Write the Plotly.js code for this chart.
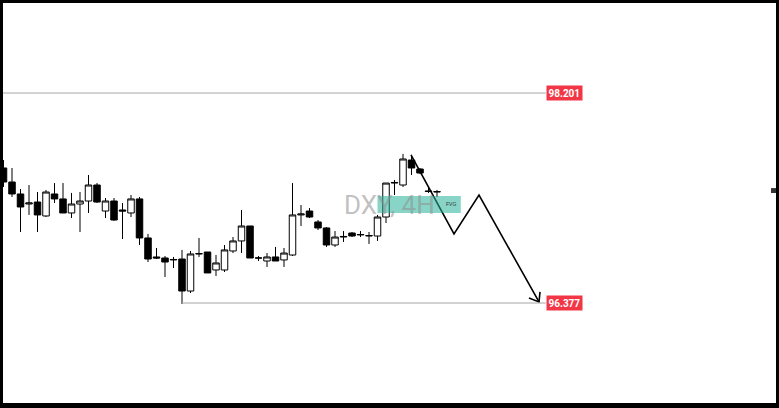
<!DOCTYPE html>
<html>
<head>
<meta charset="utf-8">
<script src="https://cdn.plot.ly/plotly-3.0.1.min.js"></script>
<style>html,body{margin:0;padding:0;background:#fff;}#chart{width:779px;height:408px;}</style>
</head>
<body>
<div id="chart"></div>
<script>
// Candle index (0..51), DXY 4H
const candleIndex = Array.from({length: 52}, (_, i) => i);
const openP  = [97.550,97.428,97.324,97.237,97.254,97.133,97.324,97.281,97.159,97.237,
                97.263,97.402,97.176,97.263,97.185,97.159,97.281,96.942,96.777,96.768,
                96.751,96.759,96.481,96.803,96.820,96.664,96.664,96.829,96.916,97.046,
                96.768,96.742,96.777,96.751,96.794,97.142,97.176,97.081,97.029,96.881,
                96.950,96.985,96.968,96.959,96.959,97.124,97.419,97.402,97.619,97.541,
                97.350,97.341];
const highP  = [97.619,97.550,97.367,97.402,97.341,97.359,97.419,97.419,97.333,97.341,
                97.489,97.419,97.289,97.289,97.246,97.315,97.298,96.977,96.855,96.785,
                96.777,96.838,96.829,96.942,96.820,96.794,96.881,96.950,97.185,97.046,
                96.785,96.811,96.864,96.855,97.419,97.228,97.202,97.098,97.037,97.002,
                97.002,96.994,97.002,96.994,97.142,97.419,97.446,97.672,97.663,97.550,
                97.376,97.359];
const lowP   = [97.385,97.298,96.994,97.142,96.994,97.124,97.246,97.159,97.115,96.994,
                97.159,97.246,97.115,97.090,96.933,97.124,96.881,96.733,96.759,96.603,
                96.681,96.368,96.464,96.777,96.638,96.612,96.646,96.811,96.811,96.768,
                96.742,96.690,96.742,96.690,96.785,97.046,97.115,97.011,96.864,96.864,
                96.907,96.950,96.950,96.890,96.916,97.072,97.315,97.385,97.489,97.497,
                97.333,97.298];
const closeP = [97.428,97.324,97.211,97.246,97.142,97.341,97.281,97.159,97.237,97.263,
                97.402,97.254,97.263,97.098,97.176,97.281,96.942,96.759,96.768,96.733,
                96.755,96.481,96.803,96.806,96.638,96.725,96.838,96.916,97.046,96.768,
                96.768,96.777,96.742,96.811,97.142,97.150,97.124,97.029,96.881,96.950,
                96.955,96.959,96.972,96.963,97.124,97.419,97.424,97.628,97.550,97.506,
                97.346,97.345];

// Key levels
const levelHigh = 98.201;
const levelLow = 96.377;
const levelLabels = ['98.201', '96.377'];

// FVG zone
const fvgX = [44, 53.8];
const fvgY = [97.159, 97.307];

// Projected path
const zigzagX = [47.94, 53.0, 55.94, 63.0];
const zigzagY = [97.663, 96.977, 97.315, 96.386];
const arrowHeadX = [61.82, 63.0, 63.12];
const arrowHeadY = [96.421, 96.386, 96.473];

const xRange = [-0.412, 91.235];
const yRange = [95.465, 99.009];

const traces = [
  {
    type: 'candlestick',
    x: candleIndex, open: openP, high: highP, low: lowP, close: closeP,
    increasing: {line: {color: '#000', width: 1}, fillcolor: '#ffffff'},
    decreasing: {line: {color: '#000', width: 1}, fillcolor: '#000000'},
    hoverinfo: 'skip', showlegend: false
  },
  {
    type: 'scatter', mode: 'lines', x: zigzagX, y: zigzagY,
    line: {color: '#000', width: 1.6}, hoverinfo: 'skip', showlegend: false
  },
  {
    type: 'scatter', mode: 'lines', x: arrowHeadX, y: arrowHeadY,
    line: {color: '#000', width: 1.6}, hoverinfo: 'skip', showlegend: false
  }
];

const shapes = [
  {type: 'line', xref: 'x', yref: 'y', x0: xRange[0], x1: 63.8, y0: levelHigh, y1: levelHigh,
   line: {color: '#a6a6a6', width: 1}},
  {type: 'line', xref: 'x', yref: 'y', x0: 21, x1: 63.8, y0: levelLow, y1: levelLow,
   line: {color: '#a6a6a6', width: 1}},
  {type: 'rect', xref: 'x', yref: 'y', x0: fvgX[0], x1: fvgX[1], y0: fvgY[0], y1: fvgY[1],
   fillcolor: 'rgba(38,178,155,0.55)', line: {width: 0}, layer: 'above'},
  // small price-scale marker at right edge
  {type: 'rect', xref: 'paper', yref: 'paper', x0: 0.9897, x1: 0.9974, y0: 0.527, y1: 0.539,
   fillcolor: '#333', line: {width: 0}},
  // frame
  {type: 'rect', xref: 'paper', yref: 'paper', x0: 0, x1: 1, y0: 0.9926, y1: 1, fillcolor: '#000', line: {width: 0}, layer: 'above'},
  {type: 'rect', xref: 'paper', yref: 'paper', x0: 0, x1: 0.00385, y0: 0, y1: 1, fillcolor: '#000', line: {width: 0}, layer: 'above'},
  {type: 'rect', xref: 'paper', yref: 'paper', x0: 0.99615, x1: 1, y0: 0, y1: 1, fillcolor: '#000', line: {width: 0}, layer: 'above'},
  {type: 'rect', xref: 'paper', yref: 'paper', x0: 0, x1: 1, y0: 0, y1: 0.01225, fillcolor: '#000', line: {width: 0}, layer: 'above'}
];

const annotations = [
  {x: 39.8, y: 97.228, xref: 'x', yref: 'y', xanchor: 'left', yanchor: 'middle',
   text: 'DXY, 4H', showarrow: false,
   font: {family: 'Roboto, Arial, sans-serif', size: 26, color: 'rgba(140,140,140,0.55)'}},
  {x: 52.6, y: 97.233, xref: 'x', yref: 'y', xanchor: 'center', yanchor: 'middle',
   text: 'FVG', showarrow: false, font: {family: 'Arial', size: 5, color: '#333'}},
  {x: 63.82, y: levelHigh, xref: 'x', yref: 'y', xanchor: 'left', yanchor: 'middle',
   text: '<b>' + levelLabels[0] + '</b>', showarrow: false, bgcolor: '#f23645', borderpad: 1.5,
   font: {family: 'Roboto, Arial, sans-serif', size: 10, color: '#fff'}},
  {x: 63.82, y: levelLow, xref: 'x', yref: 'y', xanchor: 'left', yanchor: 'middle',
   text: '<b>' + levelLabels[1] + '</b>', showarrow: false, bgcolor: '#f23645', borderpad: 1.5,
   font: {family: 'Roboto, Arial, sans-serif', size: 10, color: '#fff'}}
];

const layout = {
  width: 779, height: 408,
  margin: {l: 0, r: 0, t: 0, b: 0, pad: 0},
  paper_bgcolor: '#fff', plot_bgcolor: '#fff',
  showlegend: false,
  boxgap: 0.1, boxgroupgap: 0.15,
  xaxis: {range: xRange, visible: false, rangeslider: {visible: false}, fixedrange: true},
  yaxis: {range: yRange, visible: false, fixedrange: true},
  shapes: shapes,
  annotations: annotations
};

Plotly.newPlot('chart', traces, layout, {staticPlot: true, displayModeBar: false});
</script>
</body>
</html>
